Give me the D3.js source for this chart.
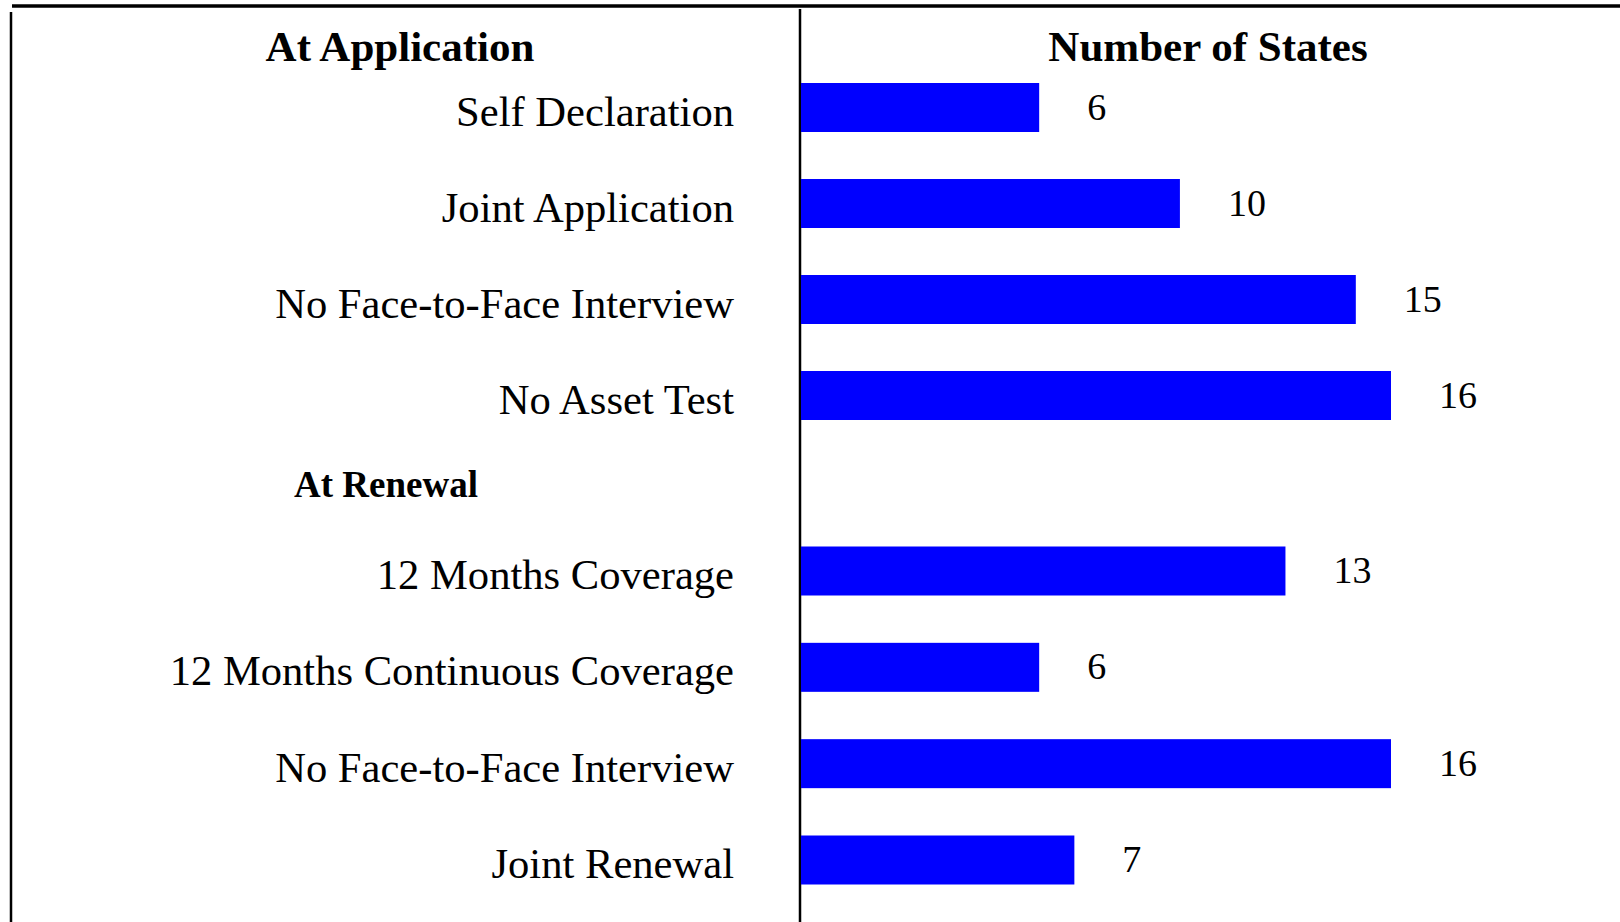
<!DOCTYPE html>
<html>
<head>
<meta charset="utf-8">
<script src="https://cdn.jsdelivr.net/npm/d3@7"></script>
<style>
  body { margin: 0; background: #fff; }
  text { font-family: "Liberation Serif", "Times New Roman", serif; fill: #000; }
</style>
</head>
<body>
<script>

// categories and number of states, one list per group
var applicationItems = ["Self Declaration", "Joint Application", "No Face-to-Face Interview", "No Asset Test"];
var applicationStates = [6, 10, 15, 16];
var renewalItems = ["12 Months Coverage", "12 Months Continuous Coverage", "No Face-to-Face Interview", "Joint Renewal"];
var renewalStates = [13, 6, 16, 7];

var headers = ["At Application", "Number of States", "At Renewal"];

var w = 1620;
var h = 922;

var splitX = 800;
var labelRight = 734;
var barHeight = 49;

// make svg (canvas) element
var svg = d3.select("body")
            .append("svg")
            .attr("width", w)
            .attr("height", h);

svg.append("rect")
   .attr("width", w)
   .attr("height", h)
   .attr("fill", "#fff");

// value axis, its minimum sits a little below zero like the original
var xScale = d3.scaleLinear()
  .domain([-0.77, 16])
  .range([splitX + 1, 1391]);

var yApp = d3.scalePoint()
  .domain(d3.range(applicationItems.length))
  .range([107.5, 395.5]);

var yRen = d3.scalePoint()
  .domain(d3.range(renewalItems.length))
  .range([571, 860]);

// table lines
svg.append("line")
   .attr("x1", 12).attr("x2", w)
   .attr("y1", 6).attr("y2", 6)
   .attr("stroke", "#000")
   .attr("stroke-width", 3.5);

svg.append("line")
   .attr("x1", 11).attr("x2", 11)
   .attr("y1", 12).attr("y2", h)
   .attr("stroke", "#000")
   .attr("stroke-width", 2.5);

svg.append("line")
   .attr("x1", splitX).attr("x2", splitX)
   .attr("y1", 9).attr("y2", h)
   .attr("stroke", "#000")
   .attr("stroke-width", 2.5);

// column headers
svg.append("text")
   .attr("x", 400)
   .attr("y", 61)
   .attr("text-anchor", "middle")
   .style("font-size", "43px")
   .style("font-weight", "bold")
   .text(headers[0]);

svg.append("text")
   .attr("x", 1208)
   .attr("y", 61)
   .attr("text-anchor", "middle")
   .style("font-size", "43px")
   .style("font-weight", "bold")
   .text(headers[1]);

// group heading between the two blocks
svg.append("text")
   .attr("x", 294)
   .attr("y", 497)
   .attr("text-anchor", "start")
   .style("font-size", "37px")
   .style("font-weight", "bold")
   .text(headers[2]);

// draws one block of rows
function drawGroup(items, values, yScale, cls){

  var rows = svg.selectAll("." + cls)
    .data(items.map(function(d, i){ return {name: d, value: values[i], i: i}; }))
    .enter().append("g")
    .attr("class", cls)
    .attr("transform", function(d){
      return "translate(0," + yScale(d.i) + ")";
    });

  rows.append("rect")
    .attr("x", xScale.range()[0])
    .attr("y", -barHeight / 2)
    .attr("width", function(d){ return xScale(d.value) - xScale.range()[0]; })
    .attr("height", barHeight)
    .attr("fill", "#0000ff");

  rows.append("text")
    .attr("x", labelRight)
    .attr("y", 18)
    .attr("text-anchor", "end")
    .style("font-size", "42.6px")
    .text(function(d){ return d.name; });

  rows.append("text")
    .attr("x", function(d){ return xScale(d.value) + 48; })
    .attr("y", 12)
    .attr("text-anchor", "start")
    .style("font-size", "38px")
    .text(function(d){ return d.value; });
}

drawGroup(applicationItems, applicationStates, yApp, "app");
drawGroup(renewalItems, renewalStates, yRen, "ren");

</script>
</body>
</html>
